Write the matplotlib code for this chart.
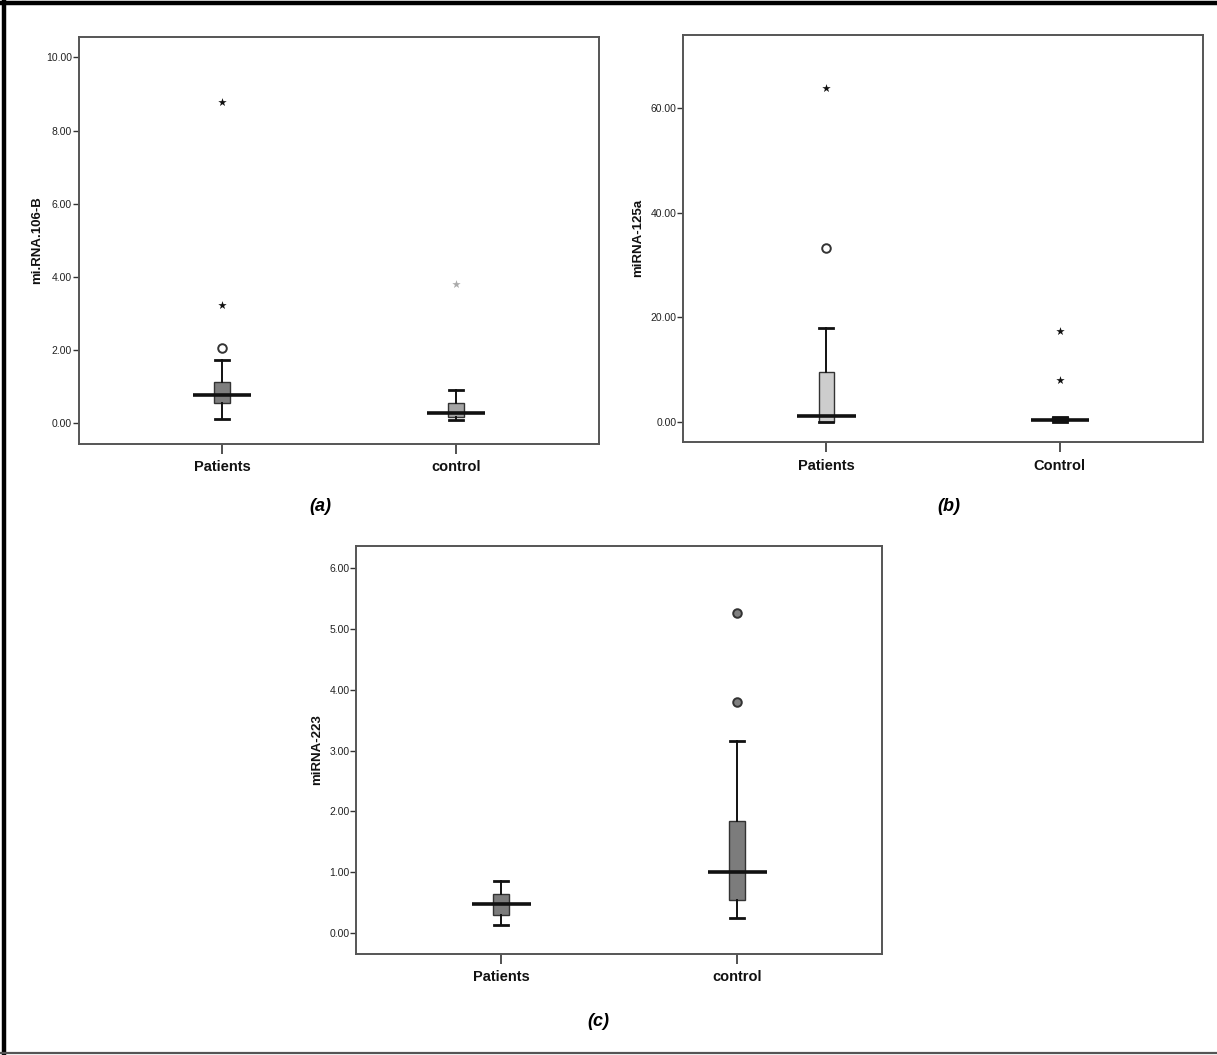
import numpy as np
import matplotlib
matplotlib.use('Agg')
import matplotlib.pyplot as plt
from matplotlib.lines import Line2D

plt.rcParams['font.family'] = ['Liberation Sans', 'DejaVu Sans']

groups_a = ['Patients', 'control']
groups_b = ['Patients', 'Control']
groups_c = ['Patients', 'control']

# box stats: (whislo, q1, med, q3, whishi)
stats_a = [(0.11, 0.57, 0.78, 1.13, 1.74), (0.08, 0.18, 0.28, 0.57, 0.92)]
stats_b = [(0.0, 0.05, 1.16, 9.57, 17.98), (0.0, 0.10, 0.35, 0.95, 1.0)]
stats_c = [(0.14, 0.30, 0.48, 0.65, 0.86), (0.25, 0.54, 1.00, 1.84, 3.16)]

# outliers per group
circles_a = [[2.05], []]
stars_a = [[3.24, 8.78], [3.80]]
circles_b = [[33.2], []]
stars_b = [[63.8], [7.95, 17.3]]
circles_c = [[], [3.80, 5.26]]
stars_c = [[], []]

box_colors_a = ['#7e7e7e', '#a4a4a4']
box_colors_b = ['#cdcdcd', '#6e6e6e']
box_colors_c = ['#7c7c7c', '#7c7c7c']
star_colors_a = ['#111111', '#aaaaaa']


def panel(rect, stats, labels, colors, circles, stars, ylabel, yticks, ylim, label_x,
          star_colors=('#111111', '#111111'), circle_fill='white'):
    ax = fig.add_axes(rect)
    bxs = []
    for (lo, q1, med, q3, hi), lab in zip(stats, labels):
        bxs.append(dict(whislo=lo, q1=q1, med=med, q3=q3, whishi=hi,
                        fliers=[], label=lab))
    pos = [1, 2]
    out = ax.bxp(bxs, positions=pos, widths=0.067, capwidths=0.06,
                 patch_artist=True, showfliers=False,
                 boxprops=dict(edgecolor='#333333', linewidth=1.0),
                 whiskerprops=dict(color='#111111', linewidth=1.4),
                 capprops=dict(color='#111111', linewidth=2.0),
                 medianprops=dict(linewidth=0))
    for b, c in zip(out['boxes'], colors):
        b.set_facecolor(c)
    for p, s in zip(pos, stats):
        ax.hlines(s[2], p - 0.125, p + 0.125, color='#111111', linewidth=2.6, zorder=5)
    for p, cs, ss, sc in zip(pos, circles, stars, star_colors):
        if cs:
            ax.scatter([p] * len(cs), cs, s=38, marker='o', facecolor=circle_fill,
                       edgecolor='#333333', linewidths=1.4, zorder=6)
        if ss:
            ax.scatter([p] * len(ss), ss, s=40, marker='*', color=sc,
                       linewidths=0, zorder=6)
    ax.set_xlim(0.387, 2.613)
    ax.set_ylim(*ylim)
    ax.set_yticks(yticks)
    ax.set_yticklabels(['%.2f' % v for v in yticks], fontsize=7.5, color='#222222')
    ax.set_xticks(pos)
    ax.set_xticklabels(labels, fontsize=10.5, fontweight='bold', color='#111111')
    ax.tick_params(axis='y', length=4, width=1, color='#333333', pad=1)
    ax.tick_params(axis='x', length=7, width=1.2, color='#333333', pad=5)
    for sp in ax.spines.values():
        sp.set_color('#555555')
        sp.set_linewidth(1.4)
    ax.set_ylabel(ylabel, fontsize=9.5, fontweight='bold', color='#111111')
    ax.yaxis.set_label_coords(label_x, 0.5)
    return ax


fig = plt.figure(figsize=(12.17, 10.55), dpi=100)

panel([0.0649, 0.5796, 0.4273, 0.3858], stats_a, groups_a, box_colors_a,
      circles_a, stars_a, 'mi.RNA.106-B', [0, 2, 4, 6, 8, 10], (-0.55, 10.57),
      -0.069, star_colors=star_colors_a)
panel([0.5615, 0.5809, 0.4269, 0.3862], stats_b, groups_b, box_colors_b,
      circles_b, stars_b, 'miRNA-125a', [0, 20, 40, 60], (-3.88, 74.0), -0.075)
panel([0.2929, 0.0962, 0.4319, 0.3865], stats_c, groups_c, box_colors_c,
      circles_c, stars_c, 'miRNA-223', [0, 1, 2, 3, 4, 5, 6], (-0.33, 6.36),
      -0.063, circle_fill='#808080')

# panel captions
fig.text(320 / 1217, 1 - 506 / 1055, '(a)', fontsize=13, fontweight='bold',
         fontstyle='italic', ha='center', va='center')
fig.text(949 / 1217, 1 - 506 / 1055, '(b)', fontsize=13, fontweight='bold',
         fontstyle='italic', ha='center', va='center')
fig.text(598 / 1217, 1 - 1022 / 1055, '(c)', fontsize=13, fontweight='bold',
         fontstyle='italic', ha='center', va='center')

# frame round the figure: top and left black, bottom grey
fig.add_artist(Line2D([0, 1], [1 - 3 / 1055, 1 - 3 / 1055], color='black', linewidth=3.2,
                      transform=fig.transFigure))
fig.add_artist(Line2D([4 / 1217, 4 / 1217], [0, 1], color='black', linewidth=3.2,
                      transform=fig.transFigure))
fig.add_artist(Line2D([0, 1], [2 / 1055, 2 / 1055], color='#555555', linewidth=1.6,
                      transform=fig.transFigure))

fig.savefig('out.png', dpi=100)
